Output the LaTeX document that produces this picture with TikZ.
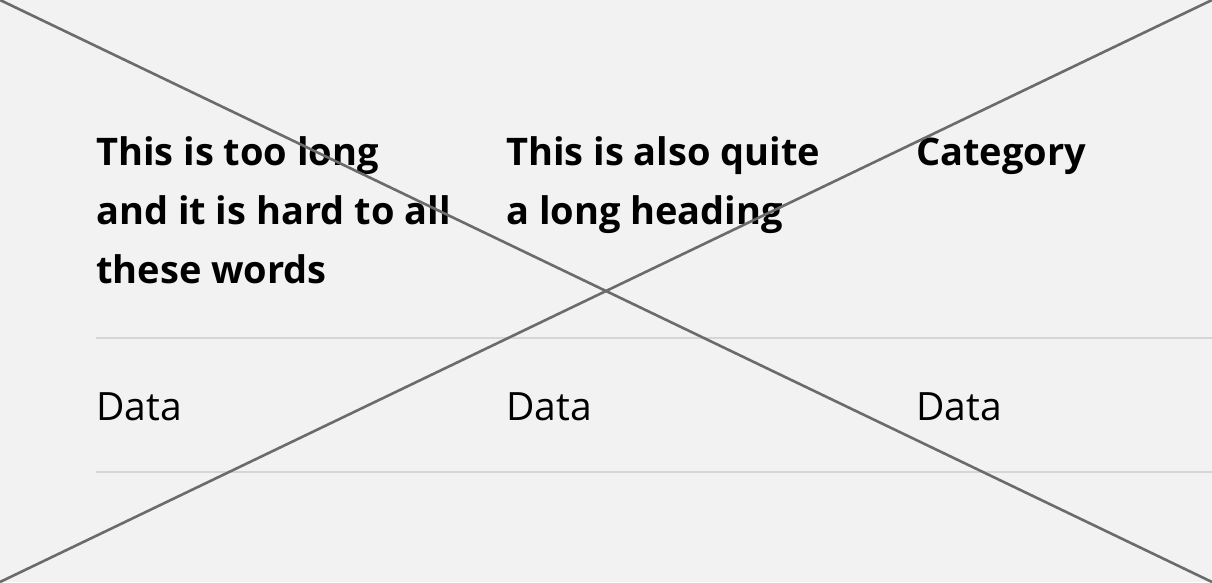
\documentclass[tikz,border=0pt]{standalone}
\usepackage{fontspec}
\setmainfont{Open Sans}
\definecolor{bg}{HTML}{F2F2F2}
\definecolor{rule}{HTML}{D6D6D6}
\definecolor{cross}{HTML}{6B6B6B}
\begin{document}
\begin{tikzpicture}[x=1pt,y=-1pt,
  head/.style={anchor=base west,inner sep=0pt,font=\fontsize{38}{59}\selectfont\bfseries,align=left},
  cell/.style={anchor=base west,inner sep=0pt,font=\fontsize{39}{59}\selectfont},
  rulel/.style={draw=rule,line width=2pt},
  crossl/.style={draw=cross,line width=2.6pt}]
\fill[bg] (0,0) rectangle (1212,582);
\useasboundingbox (0,0) rectangle (1212,582);
\coordinate (tl) at (0,0);
\coordinate (tr) at (1212,0);
\coordinate (bl) at (0,582);
\coordinate (br) at (1212,582);
\coordinate (r1a) at (96,338);
\coordinate (r1b) at (1212,338);
\coordinate (r2a) at (96,472);
\coordinate (r2b) at (1212,472);
\draw[rulel] (r1a) -- (r1b);
\draw[rulel] (r2a) -- (r2b);
\node[head] (h1) at (96,165) {This is too long};
\node[head] (h1b) at (96,224) {and it is hard to all};
\node[head] (h1c) at (96,283) {these words};
\node[head] (h2) at (506,165) {This is also quite};
\node[head] (h2b) at (506,224) {a long heading};
\node[head] (h3) at (916,165) {Category};
\node[cell] (d1) at (96,420) {Data};
\node[cell] (d2) at (506,420) {Data};
\node[cell] (d3) at (916,420) {Data};
\draw[crossl] (tl) -- (br);
\draw[crossl] (bl) -- (tr);
\end{tikzpicture}
\end{document}
